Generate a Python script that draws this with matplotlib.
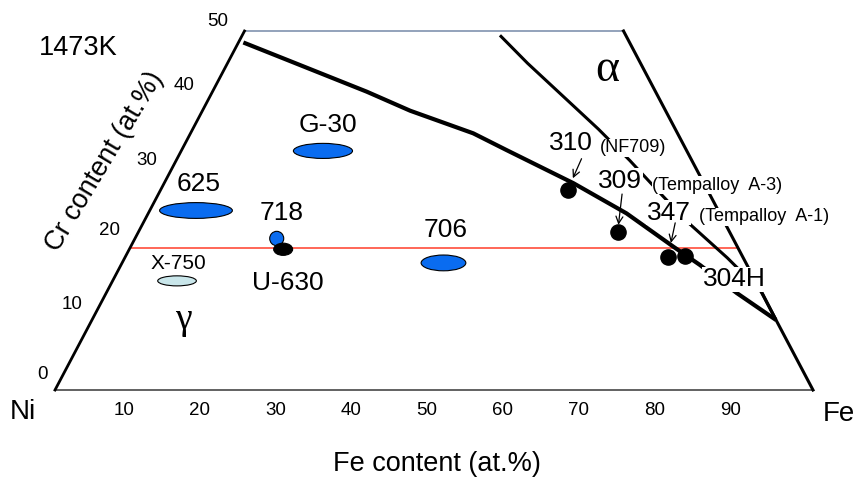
import numpy as np
import matplotlib
matplotlib.use("Agg")
import matplotlib.pyplot as plt
from matplotlib.patches import Ellipse

plt.rcParams["font.family"] = ["Liberation Sans", "DejaVu Sans"]

# ======================================================
# DATA  (compositions in at.%)
# ======================================================
alloy_names = ["625", "G-30", "718", "706", "X-750", "U-630"]
alloy_fe = [6.1, 18.7, 18.7, 42.4, 8.5, 20.3]
alloy_cr = [25.0, 33.3, 21.1, 17.7, 15.2, 19.6]
alloy_fe_range = [9.6, 7.8, 1.85, 5.9, 5.1, 2.5]
alloy_cr_range = [2.2, 2.1, 2.0, 2.2, 1.4, 1.7]
alloy_colors = ["#0a6cf0", "#0a6cf0", "#0a6cf0", "#0a6cf0", "#c9e6ea", "black"]

steel_names = ["310", "309", "347", "304H"]
steel_subs = ["(NF709)", "(Tempalloy  A-3)", "(Tempalloy  A-1)", ""]
steel_fe = [53.7, 63.2, 71.6, 73.8]
steel_cr = [27.9, 22.05, 18.5, 18.6]

# gamma / (gamma+alpha) boundary
gamma_fe = [0.65, 7.85, 20.35, 27.4, 37.3, 42.9, 54.0, 63.1, 71.6, 76.4, 83.2, 90.25]
gamma_cr = [48.4, 45.9, 41.55, 38.9, 35.75, 33.4, 28.8, 24.6, 19.96, 17.4, 13.5, 9.75]

# (gamma+alpha) / alpha boundary
alpha_fe = [34.0, 39.6, 47.35, 53.5, 59.8, 66.7, 71.9, 79.5, 86.4, 90.25]
alpha_cr = [49.4, 45.5, 40.4, 36.35, 32.0, 27.0, 23.3, 18.4, 13.65, 9.75]

# 20Cr reference line
ref_cr = 19.8
ref_fe = [0.0, 80.0]

fe_ticks = [10, 20, 30, 40, 50, 60, 70, 80, 90]
cr_ticks = [0, 10, 20, 30, 40, 50]


def tern(fe, cr):
    fe = np.asarray(fe, dtype=float)
    cr = np.asarray(cr, dtype=float)
    return fe + cr / 2.0, cr


# ======================================================
# FIGURE
# ======================================================
fig = plt.figure(figsize=(8.59, 4.84), dpi=100)
ax = fig.add_axes([0, 0, 1, 1])
ax.set_xlim(-55 / 7.58, 804 / 7.58)
ax.set_ylim(-94 / 7.18, 390 / 7.18)
ax.axis("off")

# ── frame of the partial ternary ─────────────────────
ax.plot(*tern([0, 100], [0, 0]), color="#555555", lw=1.3, zorder=2)
ax.plot(*tern([0, 50], [50, 50]), color="#8a9bb5", lw=1.3, zorder=2)
ax.plot(*tern([0, 0], [0, 50]), color="black", lw=2.0, zorder=2)
ax.plot(*tern([100, 50], [0, 50]), color="black", lw=2.2, zorder=2)

# ── phase boundaries ─────────────────────────────────
ax.plot(*tern(gamma_fe, gamma_cr), color="black", lw=3.0, zorder=3,
        solid_capstyle="butt", solid_joinstyle="round")
ax.plot(*tern(alpha_fe, alpha_cr), color="black", lw=2.2, zorder=3,
        solid_capstyle="butt", solid_joinstyle="round")

ax.plot(*tern(ref_fe, [ref_cr, ref_cr]), color="#ff5a4a", lw=1.3, zorder=1)

# ── ticks ────────────────────────────────────────────
for f in fe_ticks:
    ax.annotate(str(f), xy=tern(f, 0), xytext=(-5, -15),
                textcoords="offset points", ha="center", va="center",
                fontsize=13.5)
cr_tick_off = [(-9, 11.5), (-14.7, 10.2), (-15.3, 11.1), (-16, 10.5),
               (-15.9, 12.5), (-19.1, 6.8)]
for c, off in zip(cr_ticks, cr_tick_off):
    ax.annotate(str(c), xy=tern(0, c), xytext=off,
                textcoords="offset points", ha="center", va="center",
                fontsize=13.5)

ax.text(*tern(-2.65, -3.13), "Ni", fontsize=20, ha="center", va="center")
ax.text(*tern(105.1, -3.34), "Fe", fontsize=20, ha="center", va="center")

fig.text(436.5 / 859, 1 - 464 / 484, "Fe content (at.%)", fontsize=19.5,
         ha="center", va="center")
fig.text(105 / 859, 1 - 162 / 484, "Cr content (at.%)", fontsize=19.5,
         ha="center", va="center", rotation=59)
fig.text(78 / 859, 1 - 48 / 484, "1473K", fontsize=19.5,
         ha="center", va="center")

ax.text(*tern(50.6, 44.6), "\u03b1", fontsize=33, ha="center", va="center",
        family="Liberation Serif")
ax.text(*tern(12.0, 9.75), "\u03b3", fontsize=27, ha="center", va="center",
        family="Liberation Serif")

# ── Ni-base alloys (ellipses) ────────────────────────
alloy_label_off = [(2.2, 19.2), (3.5, 18.7), (3.5, 18.2), (1.6, 23.5),
                   (0.7, 12.4), (3.7, -24.3)]
for i, name in enumerate(alloy_names):
    x, y = tern(alloy_fe[i], alloy_cr[i])
    ax.add_patch(Ellipse((x, y), alloy_fe_range[i], alloy_cr_range[i],
                         facecolor=alloy_colors[i], edgecolor="black",
                         lw=0.8, zorder=4))
    ax.annotate(name, xy=(x, y), xytext=alloy_label_off[i],
                textcoords="offset points", ha="center", va="center",
                fontsize=15 if name == "X-750" else 19, zorder=6)

# ── stainless steels (dots) ──────────────────────────
ax.scatter(*tern(steel_fe, steel_cr), s=120, color="black", zorder=5)

steel_label_off = [(1.9, 33.8), (1.9, 36.5), (0.6, 31.9), (35.3, -16.4)]
steel_sub_off = [(46.9, 30.2), (71.8, 33.6), (69.3, 29.0), None]
arrow_tail_off = [(9.9, 22.3), (3.2, 27.1), (5.3, 24.7), None]
arrow_shrink = [9, 5, 10.5, 0]
box = dict(facecolor="white", edgecolor="none", pad=0.3)
for i, name in enumerate(steel_names):
    xy = tern(steel_fe[i], steel_cr[i])
    ax.annotate(name, xy=xy, xytext=steel_label_off[i],
                textcoords="offset points", ha="center", va="center",
                fontsize=19, bbox=box, zorder=6)
    if steel_subs[i]:
        ax.annotate(steel_subs[i], xy=xy, xytext=steel_sub_off[i],
                    textcoords="offset points", ha="center", va="center",
                    fontsize=13, bbox=box, zorder=6)
    if arrow_tail_off[i] is not None:
        ax.annotate("", xy=xy, xytext=arrow_tail_off[i],
                    textcoords="offset points",
                    arrowprops=dict(arrowstyle="->,head_length=0.5,head_width=0.25",
                                    color="black", lw=0.9,
                                    shrinkA=0, shrinkB=arrow_shrink[i]),
                    zorder=7)

fig.savefig("out.png", dpi=100)
